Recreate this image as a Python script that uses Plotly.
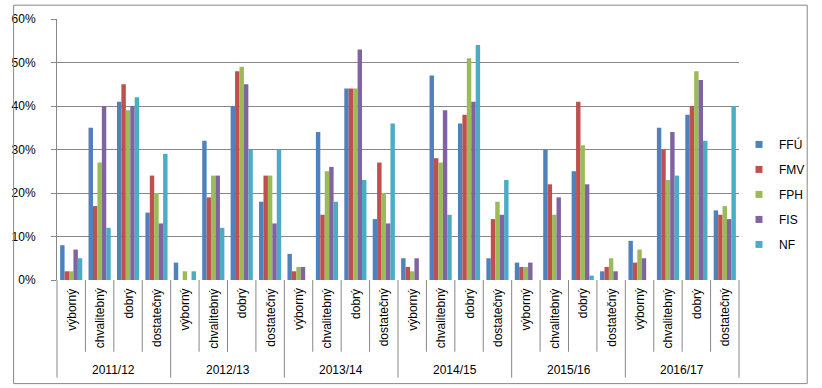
import plotly.graph_objects as go

years = ["2011/12", "2012/13", "2013/14", "2014/15", "2015/16", "2016/17"]
grades = ["výborný", "chvalitebný", "dobrý", "dostatečný"]

# values in percent, order: year by year, grade by grade
FFU = [8, 35, 41, 15.5,  4, 32, 40, 18,  6, 34, 44, 14,  5, 47, 36, 5,  4, 30, 25, 2,  9, 35, 38, 16]
FMV = [2, 17, 45, 24,    0, 19, 48, 24,  2, 15, 44, 27,  3, 28, 38, 14, 3, 22, 41, 3,  4, 30, 40, 15]
FPH = [2, 27, 39, 20,    2, 24, 49, 24,  3, 25, 44, 20,  2, 27, 51, 18, 3, 15, 31, 5,  7, 23, 48, 17]
FIS = [7, 40, 40, 13,    0, 24, 45, 13,  3, 26, 53, 13,  5, 39, 41, 15, 4, 19, 22, 2,  5, 34, 46, 14]
NF  = [5, 12, 42, 29,    2, 12, 30, 30,  0, 18, 23, 36,  0, 15, 54, 23, 0, 0, 1, 0,    0, 24, 32, 40]

series_names = ["FFÚ", "FMV", "FPH", "FIS", "NF"]
series_values = [FFU, FMV, FPH, FIS, NF]
colors = ["#4F81BD", "#C0504D", "#9BBB59", "#8064A2", "#4BACC6"]

FONT = "Liberation Sans"
GRID = "#878787"

n = len(years) * len(grades)
xs = list(range(n))

fig = go.Figure()
for name, vals, col in zip(series_names, series_values, colors):
    fig.add_trace(go.Bar(
        x=xs, y=[v / 100 for v in vals], name=name,
        marker=dict(color=col, line=dict(width=0)),
        legendgroup=name, showlegend=False, hoverinfo="skip",
    ))
# legend entries with small square swatches
for name, col in zip(series_names, colors):
    fig.add_trace(go.Scatter(
        x=[None], y=[None], mode="markers", name=name,
        marker=dict(symbol="square", size=7, color=col),
        legendgroup=name, showlegend=True, hoverinfo="skip",
    ))

shapes = []
annotations = []
for k in range(n):
    g = grades[k % len(grades)]
    annotations.append(dict(
        x=k, y=-0.025, xref="x", yref="paper", text=g, textangle=-90,
        showarrow=False, xanchor="center", yanchor="top",
        font=dict(family=FONT, size=12, color="#000"),
    ))
for k in range(1, n):
    is_group = (k % len(grades) == 0)
    shapes.append(dict(
        type="line", xref="x", yref="paper", x0=k - 0.5, x1=k - 0.5,
        y0=0, y1=-0.374 if is_group else -0.275,
        line=dict(color=GRID, width=1),
    ))
for xd in (0, 1):
    shapes.append(dict(
        type="line", xref="x domain", yref="paper", x0=xd, x1=xd,
        y0=0, y1=-0.374, line=dict(color=GRID, width=1),
    ))
for gi, yr in enumerate(years):
    annotations.append(dict(
        x=gi * len(grades) + (len(grades) - 1) / 2, y=-0.3435, xref="x", yref="paper",
        text=yr, showarrow=False, xanchor="center", yanchor="middle",
        font=dict(family=FONT, size=12, color="#000"),
    ))
# outer chart frame
fx0, fx1, fy0, fy1 = -0.0636, 1.1, -0.397, 1.053
for (a, b, c, d) in [(fx0, fy0, fx1, fy0), (fx0, fy1, fx1, fy1),
                     (fx0, fy0, fx0, fy1), (fx1, fy0, fx1, fy1)]:
    shapes.append(dict(type="line", xref="paper", yref="paper",
                       x0=a, y0=b, x1=c, y1=d, line=dict(color=GRID, width=1)))

fig.update_layout(
    width=822, height=388,
    margin=dict(l=48, r=74, t=18, b=108),
    paper_bgcolor="white", plot_bgcolor="white",
    barmode="group", bargap=0.22, bargroupgap=0,
    font=dict(family=FONT, size=12, color="#000"),
    shapes=shapes, annotations=annotations,
    showlegend=True,
    legend=dict(
        x=1.0, y=0.575, xanchor="left", yanchor="top",
        font=dict(family=FONT, size=12, color="#000"),
        tracegroupgap=6, bgcolor="rgba(0,0,0,0)",
    ),
    xaxis=dict(
        range=[-0.5, n - 0.5], showticklabels=False, ticks="",
        showgrid=False, zeroline=False, showline=False, fixedrange=True,
    ),
    yaxis=dict(
        range=[0, 0.6], dtick=0.1, tickformat=".0%",
        showgrid=True, gridcolor=GRID, gridwidth=1,
        showline=True, linecolor=GRID, linewidth=1,
        ticks="outside", ticklen=5, tickcolor=GRID,
        ticklabelstandoff=13,
        zeroline=False, fixedrange=True,
        tickfont=dict(family=FONT, size=12, color="#000"),
    ),
)

fig.write_html(
    "out.html",
    config={"displayModeBar": False},
    post_script="document.body.style.margin='0';document.body.style.overflow='hidden';",
)
